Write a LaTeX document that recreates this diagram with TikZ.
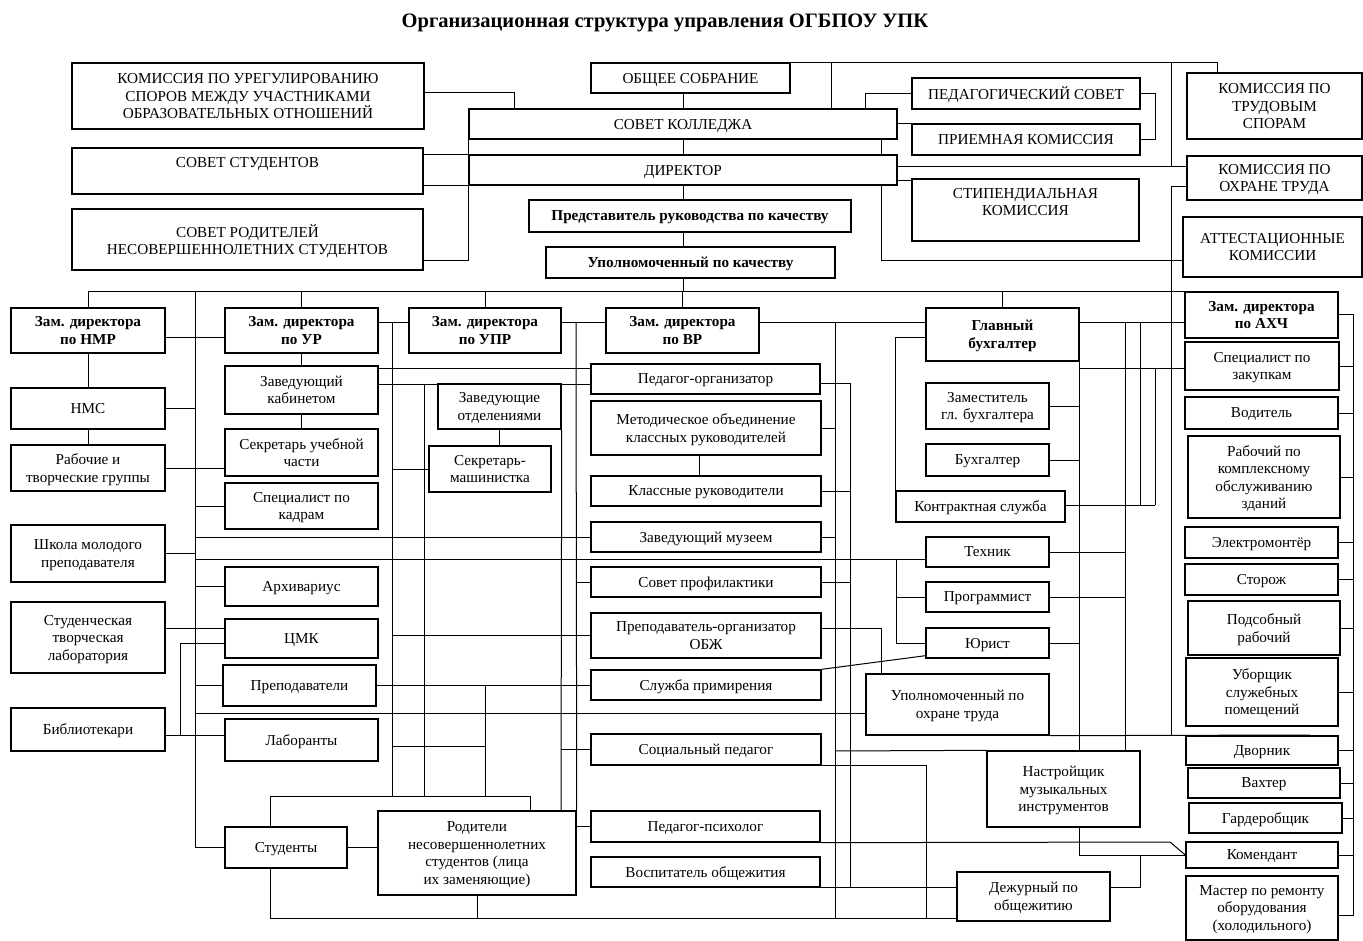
\documentclass[tikz,border=0pt]{standalone}
\usepackage{fontspec}
\setmainfont{Liberation Serif}
\newcommand\bx[7][]{%
  \node[box, #1, minimum width={(#5)-(#3)}, minimum height={(#6)-(#4)}]
    (#2) at ({((#3)+(#5))/2}, {((#4)+(#6))/2}) {#7};}
\begin{document}
\begin{tikzpicture}[x=1pt, y=-1pt, line width=1pt,
  txt/.style={font=\fontsize{15.2}{17.5}\selectfont, align=center},
  box/.style={draw, line width=1.4pt, inner sep=1pt, text depth=0pt, txt},
  head/.style={font=\fontsize{15.2}{17.5}\selectfont\bfseries},
  toptxt/.style={label={[txt, anchor=north, yshift=-6pt]north:#1}}]
  \useasboundingbox (0,0) rectangle (1363,941);
  \node[font=\fontsize{20.5}{24}\selectfont\bfseries] (title) at (665,23) {Организационная структура управления ОГБПОУ УПК};

  \bx{kpu}{72}{63}{424}{129}{КОМИССИЯ ПО УРЕГУЛИРОВАНИЮ\\СПОРОВ МЕЖДУ УЧАСТНИКАМИ\\ОБРАЗОВАТЕЛЬНЫХ ОТНОШЕНИЙ}
  \bx[toptxt={СОВЕТ СТУДЕНТОВ}]{ss}{72}{148}{423}{194}{}
  \bx{sr}{72}{209}{423}{270}{СОВЕТ РОДИТЕЛЕЙ\\НЕСОВЕРШЕННОЛЕТНИХ СТУДЕНТОВ}
  \bx{os}{591}{63}{790}{93}{ОБЩЕЕ СОБРАНИЕ}
  \bx{sk}{469}{109}{897}{139}{СОВЕТ КОЛЛЕДЖА}
  \bx{dir}{469}{155}{897}{185}{ДИРЕКТОР}
  \bx[head]{prk}{529}{200}{851}{232}{Представитель руководства по качеству}
  \bx[head]{upk}{546}{247}{835}{278}{Уполномоченный по качеству}
  \bx{ps}{912}{78}{1140}{109}{ПЕДАГОГИЧЕСКИЙ СОВЕТ}
  \bx{pk}{912}{124}{1140}{155}{ПРИЕМНАЯ КОМИССИЯ}
  \bx[toptxt={СТИПЕНДИАЛЬНАЯ\\КОМИССИЯ}]{stk}{912}{179}{1139}{241}{}
  \bx{kts}{1187}{73}{1362}{139}{КОМИССИЯ ПО\\ТРУДОВЫМ\\СПОРАМ}
  \bx{kot}{1187}{156}{1362}{200}{КОМИССИЯ ПО\\ОХРАНЕ ТРУДА}
  \bx{atk}{1183}{217}{1362}{277}{АТТЕСТАЦИОННЫЕ\\КОМИССИИ}

  \bx[head]{nmr}{11}{308}{165}{353}{Зам. директора\\по НМР}
  \bx[head]{ur}{225}{308}{378}{353}{Зам. директора\\по УР}
  \bx[head]{upr}{409}{308}{561}{353}{Зам. директора\\по УПР}
  \bx[head]{vr}{606}{308}{759}{353}{Зам. директора\\по ВР}
  \bx[head]{gb}{926}{308}{1079}{361}{Главный\\бухгалтер}
  \bx[head]{ahch}{1185}{292}{1338}{338}{Зам. директора\\по АХЧ}

  \bx{nms}{11}{388}{165}{429}{НМС}
  \bx{rtg}{11}{445}{165}{491}{Рабочие и\\творческие группы}
  \bx{shmp}{11}{525}{165}{582}{Школа молодого\\преподавателя}
  \bx{stl}{11}{602}{165}{673}{Студенческая\\творческая\\лаборатория}
  \bx{bib}{11}{708}{165}{751}{Библиотекари}

  \bx{zk}{225}{366}{378}{414}{Заведующий\\кабинетом}
  \bx{suc}{225}{429}{378}{476}{Секретарь учебной\\части}
  \bx{spk}{225}{483}{378}{529}{Специалист по\\кадрам}
  \bx{arh}{225}{567}{378}{606}{Архивариус}
  \bx{cmk}{225}{619}{378}{658}{ЦМК}
  \bx{prep}{223}{665}{376}{706}{Преподаватели}
  \bx{lab}{225}{719}{378}{761}{Лаборанты}
  \bx{stud}{225}{827}{347}{868}{Студенты}
  \bx{rod}{378}{811}{576}{895}{Родители\\несовершеннолетних\\студентов (лица\\их заменяющие)}

  \bx{zo}{438}{384}{561}{429}{Заведующие\\отделениями}
  \bx{sm}{429}{446}{551}{492}{Секретарь-\\машинистка}

  \bx{po}{591}{364}{820}{394}{Педагог-организатор}
  \bx{mo}{591}{401}{821}{455}{Методическое объединение\\классных руководителей}
  \bx{kr}{591}{476}{821}{506}{Классные руководители}
  \bx{zm}{591}{522}{821}{552}{Заведующий музеем}
  \bx{sp}{591}{567}{821}{597}{Совет профилактики}
  \bx{obzh}{591}{613}{821}{658}{Преподаватель-организатор\\ОБЖ}
  \bx{slp}{591}{670}{821}{700}{Служба примирения}
  \bx{socp}{591}{734}{821}{765}{Социальный педагог}
  \bx{pp}{591}{811}{820}{842}{Педагог-психолог}
  \bx{vo}{591}{857}{820}{887}{Воспитатель общежития}

  \bx{zgb}{926}{383}{1049}{429}{Заместитель\\гл. бухгалтера}
  \bx{buh}{926}{444}{1049}{476}{Бухгалтер}
  \bx{ks}{896}{491}{1065}{522}{Контрактная служба}
  \bx{teh}{926}{537}{1049}{567}{Техник}
  \bx{prog}{926}{582}{1049}{612}{Программист}
  \bx{jur}{926}{628}{1049}{658}{Юрист}
  \bx{uot}{866}{674}{1049}{735}{Уполномоченный по\\охране труда}
  \bx{nmi}{987}{751}{1140}{827}{Настройщик\\музыкальных\\инструментов}
  \bx{dzh}{957}{872}{1110}{921}{Дежурный по\\общежитию}

  \bx{szak}{1185}{342}{1339}{390}{Специалист по\\закупкам}
  \bx{vod}{1185}{397}{1338}{429}{Водитель}
  \bx{rko}{1188}{436}{1340}{518}{Рабочий по\\комплексному\\обслуживанию\\зданий}
  \bx{elm}{1185}{527}{1338}{558}{Электромонтёр}
  \bx{stor}{1185}{564}{1338}{595}{Сторож}
  \bx{podr}{1188}{601}{1340}{655}{Подсобный\\рабочий}
  \bx{ubor}{1186}{658}{1338}{726}{Уборщик\\служебных\\помещений}
  \bx{dvor}{1186}{736}{1338}{765}{Дворник}
  \bx{vaht}{1188}{768}{1340}{798}{Вахтер}
  \bx{gard}{1189}{803}{1342}{833}{Гардеробщик}
  \bx{kom}{1186}{842}{1338}{868}{Комендант}
  \bx{mast}{1186}{876}{1338}{940}{Мастер по ремонту\\оборудования\\(холодильного)}

  \draw (kpu.east |- 0,93) -| (sk.north -| 514,0);
  \draw (ss.east |- dir.north) -- (dir.north west);
  \draw (ss.east |- dir.south) -- (dir.south west);
  \draw (sk.south west) |- (sr.east |- 0,261);
  \draw (os.south -| sk.north) -- (sk.north);
  \draw (os.north east) -| (kts.north -| 1217,0);
  \draw (os.north -| 831,0) -- (sk.north -| 831,0);
  \draw (ps.west) -| (sk.north -| 865,0);
  \draw (sk.east |- pk.north) -- (pk.north west);
  \draw (ps.east) -- ++(15,0) |- (pk.east);
  \draw (sk.south -| 881,0) -- (dir.north -| 881,0);
  \draw (dir.east |- 0,167) -- (kot.west |- 0,167);
  \draw (dir.east |- 0,181) -- (stk.west |- 0,181);
  \draw (os.north -| 1171,0) -- (1171,167);
  \draw (kot.west |- 0,187) -| (1171,735);
  \draw (dir.south -| 881,0) |- (atk.west |- 0,261);
  \draw (sk.south) -- (dir.north);
  \draw (dir.south) -- (dir.south |- prk.north);
  \draw (prk.south -| dir.south) -- (upk.north -| dir.south);
  \draw (upk.south -| dir.south) -- (dir.south |- 0,292);
  \draw (nmr.north) |- (ahch.north west);
  \foreach \n in {ur,upr,vr,gb} \draw (\n.north) -- (\n.north |- 0,292);
  \draw (195,292) |- (stud.west);

  \draw (nmr.east |- 0,338) -- (ur.west |- 0,338);
  \draw (ur.east |- 0,323) -- (upr.west |- 0,323);
  \draw (upr.east |- 0,323) -- (vr.west |- 0,323);
  \draw (vr.east |- 0,323) -- (gb.west |- 0,323);
  \draw (gb.east |- 0,323) -- (ahch.west |- 0,323);
  \draw (392,323) -- (392,796);
  \draw (576,323) -- (rod.north east);
  \draw (835,323) -- (835,918);

  \draw (nmr.south) -- (nms.north);
  \draw (nms.south) -- (rtg.north);
  \draw (nms.east) -- (nms.east -| 195,0);
  \draw (rtg.east) -- (suc.west |- rtg.east);
  \draw (shmp.east) -- (shmp.east -| 195,0);
  \draw (stl.east |- 0,628) -- (cmk.west |- 0,628);
  \draw (bib.east |- 0,735) -- (lab.west |- 0,735);
  \draw (cmk.west |- 0,643) -| (180,735);

  \draw (ur.south) -- (zk.north);
  \draw (zk.south) -- (suc.north);
  \draw (spk.west) -- (spk.west -| 195,0);
  \draw (arh.west) -- (arh.west -| 195,0);
  \draw (prep.west) -- (prep.west -| 195,0);
  \draw (zk.east |- 0,368) -- (po.west |- 0,368);
  \draw (zk.east |- 0,384) -- (po.west |- 0,384);
  \draw (zm.west -| 195,0) -- (zm.west);
  \draw (195,559) -- (teh.west |- 0,559);
  \draw (195,713) -- (uot.west |- 0,713);
  \draw (prep.east) -- (slp.west |- prep.east);
  \draw (485,0 |- prep.east) -- (485,796);
  \draw (392,746) -- (485,746);
  \draw (424,384) -- (424,796);
  \draw (270,796) -- (530,796);
  \draw (270,796) -- (stud.north -| 270,0);
  \draw (530,796) -- (rod.north -| 530,0);
  \draw (stud.east) -- (rod.west |- stud.east);
  \draw (stud.south -| 270,0) |- (dzh.west |- 0,918);
  \draw (rod.south) -- (rod.south |- 0,918);

  \draw (zo.south) -- (zo.south |- sm.north);
  \draw (zo.south east) -- (rod.north -| 561,0);
  \draw (sm.west) -- (sm.west -| 392,0);
  \draw (obzh.west) -- (obzh.west -| 392,0);

  \draw (po.east |- 0,383) -- (850,383) -- (850,887);
  \draw (mo.east) -- (mo.east -| 835,0);
  \draw (mo.south -| 699,0) -- (kr.north -| 699,0);
  \draw (kr.east) -- (kr.east -| 850,0);
  \draw (zm.east) -- (zm.east -| 835,0);
  \draw (sp.east) -- (sp.east -| 850,0);
  \draw (sp.west) -- (sp.west -| 576,0);
  \draw (obzh.east |- 0,628) -| (uot.north -| 881,0);
  \draw (socp.west) -- (socp.west -| 561,0);
  \draw (835,751) -- (nmi.north west);
  \draw (socp.south east) -| (926,918);
  \draw (rod.east |- pp.west) -- (pp.west);
  \draw (pp.south east) -- (1170,842) -- (kom.west);
  \draw (vo.south east) -- (dzh.west |- vo.south east);

  \draw (gb.west |- 0,338) -| (ks.north west);
  \draw (gb.south east) -- (nmi.north -| gb.east);
  \draw (gb.east |- 0,368) -- (szak.west |- 0,368);
  \draw (1125,323) -- (nmi.north -| 1125,0);
  \draw (1140,323) -- (1140,505);
  \draw (1155,368) -- (1155,505);
  \draw (ks.east |- 0,505) -- (1155,505);
  \draw (zgb.east) -- (zgb.east -| gb.east);
  \draw (buh.east) -- (buh.east -| gb.east);
  \draw (teh.east) -- (teh.east -| 1125,0);
  \draw (prog.east) -- (prog.east -| 1125,0);
  \draw (jur.east) -- (jur.east -| gb.east);
  \draw (prog.west) -- (prog.west -| 896,0);
  \draw (896,559) |- (jur.west);
  \draw ([yshift=3pt]jur.south west) -- (slp.north east);
  \draw (uot.south east) -- (1310,735);
  \draw (nmi.south -| gb.east) |- (kom.west);
  \draw (dzh.east |- 0,887) -| (1140,855);

  \draw (ahch.east) -- (1353,0 |- ahch.east) -- (1353,915) -- (mast.east |- 0,915);
  \foreach \n in {szak,vod,rko,elm,stor,podr,ubor,dvor,vaht,gard,kom}
    \draw (\n.east) -- (\n.east -| 1353,0);
\end{tikzpicture}
\end{document}
